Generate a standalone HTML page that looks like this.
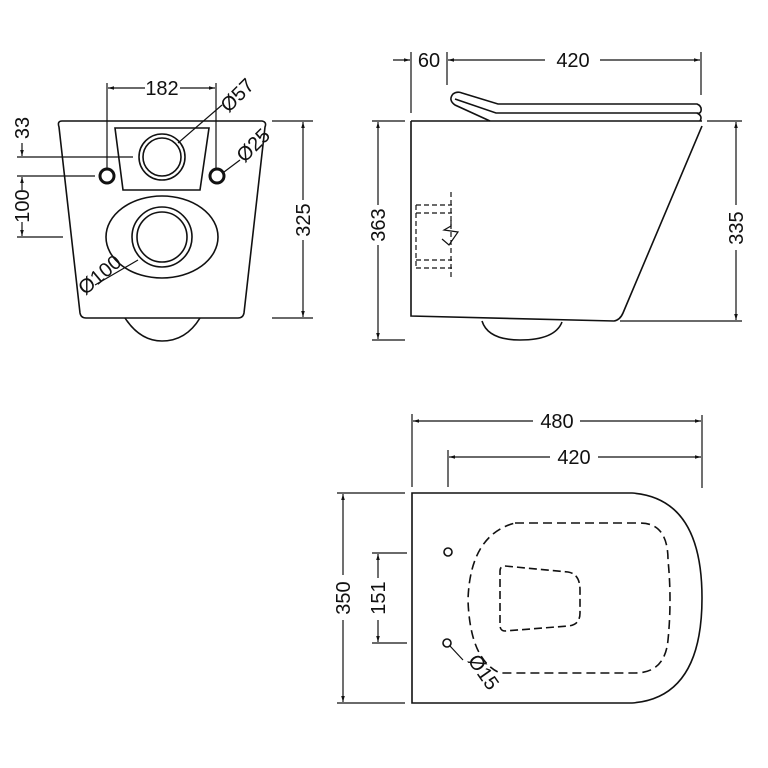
<!DOCTYPE html>
<html><head><style>body{margin:0;background:#fff}svg{display:block}text{font-family:"Liberation Sans",sans-serif;font-size:20px;fill:#111}</style></head>
<body>
<svg width="768" height="768" viewBox="0 0 768 768" xmlns="http://www.w3.org/2000/svg">
<defs><marker id="a" viewBox="0 0 10 10" refX="10" refY="5" markerWidth="9" markerHeight="6" orient="auto-start-reverse" markerUnits="userSpaceOnUse"><path d="M0,2 L10,5 L0,8z" fill="#111"/></marker></defs>
<g fill="none" stroke="#111" stroke-width="1.6">
<!-- FRONT VIEW -->
<path d="M62,121 L262,121 Q267,122 265,127 L244,313 Q243,318 238,318 L86,318 Q81,318 80,313 L59,127 Q57,121 62,121Z"/>
<path d="M115,128 L209,128 L200,190 L123,190Z"/>
<circle cx="162" cy="157" r="23"/><circle cx="162" cy="157" r="19"/>
<circle cx="107" cy="176" r="7" stroke-width="3"/><circle cx="217" cy="176" r="7" stroke-width="3"/>
<ellipse cx="162" cy="237" rx="56" ry="41"/>
<circle cx="162" cy="237" r="30"/><circle cx="162" cy="237" r="25"/>
<path d="M125,318 Q140,341 162,341 Q186,341 200,318"/>
<path d="M107,83 V168 M216,83 V168" stroke-width="1.2"/>
<path d="M145,88 H108" marker-end="url(#a)" stroke-width="1.2"/><path d="M180,88 H215" marker-end="url(#a)" stroke-width="1.2"/>
<path d="M222,105 L178,143" stroke-width="1.2"/>
<path d="M240,160 L224,172" stroke-width="1.2"/>
<path d="M17,157 H133 M17,176 H95 M17,237 H63" stroke-width="1.2"/>
<path d="M22,143 V156" marker-end="url(#a)" stroke-width="1.2"/>
<path d="M22,190 V177" marker-end="url(#a)" stroke-width="1.2"/><path d="M22,222 V236" marker-end="url(#a)" stroke-width="1.2"/>
<path d="M95,285 L138,260" stroke-width="1.2"/>
<path d="M272,121 H313 M272,318 H313" stroke-width="1.2"/>
<path d="M303,200 V122" marker-end="url(#a)" stroke-width="1.2"/><path d="M303,240 V317" marker-end="url(#a)" stroke-width="1.2"/>
<!-- SIDE VIEW -->
<path d="M411,121 H702 M411,121 V316 L614,321 Q620,320 623,313 L702,126"/>
<path d="M490,121 L455,105 Q448,100 453,94 Q457,91 462,93 L498,104 H697 Q702,106 701,111 Q700,114 697,113 H496 L455,99"/>
<path d="M697,113 Q703,116 700,121"/>
<path d="M482,321 Q488,340 520,340 Q555,340 562,322"/>
<path d="M416,205 V268 M416,205 H452 M416,213 H452 M416,260 H452 M416,268 H452 M451,192 V280" stroke-dasharray="5,3" stroke-width="1.2"/>
<path d="M451,220 V226 L444,230 L458,232 L449,245 L442,239" stroke-width="1.2"/>
<path d="M411,52 V113 M447,52 V85 M701,52 V95" stroke-width="1.2"/>
<path d="M393,60 H410" marker-end="url(#a)" stroke-width="1.2"/>
<path d="M545,60 H448" marker-end="url(#a)" stroke-width="1.2"/><path d="M600,60 H700" marker-end="url(#a)" stroke-width="1.2"/>
<path d="M372,121 H405 M372,340 H405" stroke-width="1.2"/>
<path d="M378,205 V122" marker-end="url(#a)" stroke-width="1.2"/><path d="M378,245 V339" marker-end="url(#a)" stroke-width="1.2"/>
<path d="M707,121 H742 M620,321 H742" stroke-width="1.2"/>
<path d="M736,205 V122" marker-end="url(#a)" stroke-width="1.2"/><path d="M736,250 V320" marker-end="url(#a)" stroke-width="1.2"/>
<!-- TOP VIEW -->
<path d="M412,493 H632 Q702,498 702,598 Q702,698 632,703 H412Z"/>
<path d="M515,523 H640 Q668,523 668,560 Q672,600 668,640 Q665,673 635,673 H500 Q470,660 468,600 Q470,535 515,523Z" stroke-dasharray="9,5"/>
<path d="M505,566 L568,572 Q580,574 580,590 V613 Q580,625 568,626 L505,631 Q500,631 500,625 V571 Q500,566 505,566Z" stroke-dasharray="8,4"/>
<circle cx="448" cy="552" r="4"/><circle cx="447" cy="643" r="4"/>
<path d="M450,646 L463,660" stroke-width="1.2"/>
<path d="M412,414 V487 M448,450 V487 M702,415 V488" stroke-width="1.2"/>
<path d="M533,421 H413" marker-end="url(#a)" stroke-width="1.2"/><path d="M580,421 H701" marker-end="url(#a)" stroke-width="1.2"/>
<path d="M550,457 H449" marker-end="url(#a)" stroke-width="1.2"/><path d="M598,457 H701" marker-end="url(#a)" stroke-width="1.2"/>
<path d="M337,493 H405 M337,703 H405" stroke-width="1.2"/>
<path d="M343,575 V494" marker-end="url(#a)" stroke-width="1.2"/><path d="M343,620 V702" marker-end="url(#a)" stroke-width="1.2"/>
<path d="M372,553 H407 M372,643 H407" stroke-width="1.2"/>
<path d="M378,578 V554" marker-end="url(#a)" stroke-width="1.2"/><path d="M378,620 V642" marker-end="url(#a)" stroke-width="1.2"/>
</g>
<g>
<text x="162" y="95" text-anchor="middle">182</text>
<text transform="translate(242,100) rotate(-45)" text-anchor="middle">Ø57</text>
<text transform="translate(258,150) rotate(-45)" text-anchor="middle">Ø25</text>
<text transform="translate(29,128) rotate(-90)" text-anchor="middle">33</text>
<text transform="translate(29,206) rotate(-90)" text-anchor="middle">100</text>
<text transform="translate(104,280) rotate(-40)" text-anchor="middle">Ø100</text>
<text transform="translate(310,220) rotate(-90)" text-anchor="middle">325</text>
<text x="429" y="67" text-anchor="middle">60</text>
<text x="573" y="67" text-anchor="middle">420</text>
<text transform="translate(385,225) rotate(-90)" text-anchor="middle">363</text>
<text transform="translate(743,228) rotate(-90)" text-anchor="middle">335</text>
<text x="557" y="428" text-anchor="middle">480</text>
<text x="574" y="464" text-anchor="middle">420</text>
<text transform="translate(350,598) rotate(-90)" text-anchor="middle">350</text>
<text transform="translate(385,598) rotate(-90)" text-anchor="middle">151</text>
<text transform="translate(478,676) rotate(55)" text-anchor="middle">Ø15</text>
</g>
</svg>
</body></html>
